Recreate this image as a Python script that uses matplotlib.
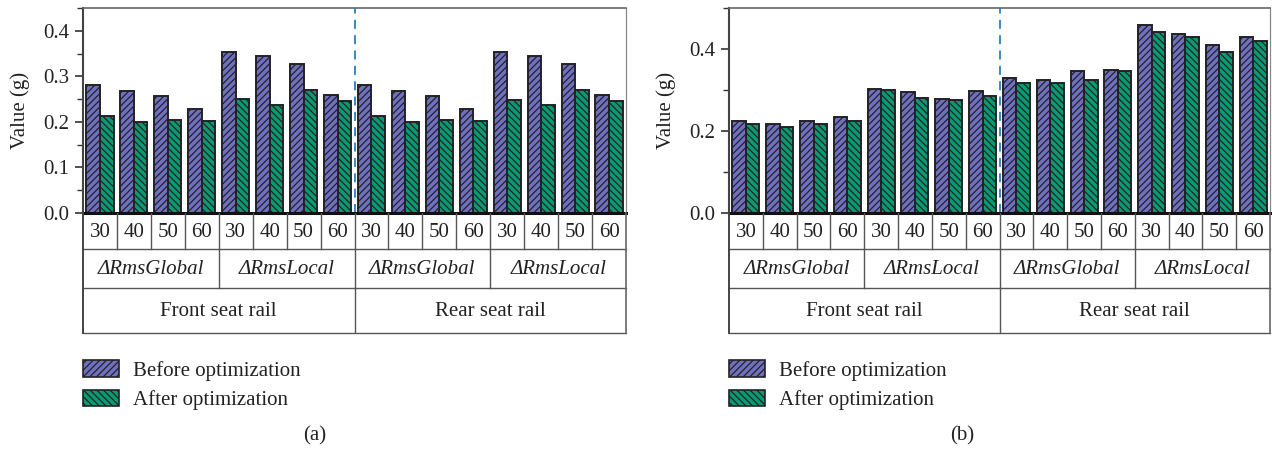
import matplotlib
matplotlib.use("Agg")
import matplotlib.pyplot as plt
from matplotlib.patches import Patch
from matplotlib.ticker import MultipleLocator, FormatStrFormatter

plt.rcParams['font.family'] = ['Liberation Serif', 'DejaVu Serif']
plt.rcParams['hatch.linewidth'] = 0.9

# Table labels under the bars
speeds = ["30", "40", "50", "60"] * 4
metrics = ["ΔRmsGlobal", "ΔRmsLocal", "ΔRmsGlobal", "ΔRmsLocal"]
positions = ["Front seat rail", "Rear seat rail"]
series_names = ["Before optimization", "After optimization"]

# Panel (a) values (g)
a_before = [0.282, 0.267, 0.256, 0.229, 0.354, 0.344, 0.328, 0.259,
            0.281, 0.267, 0.256, 0.229, 0.353, 0.344, 0.327, 0.259]
a_after = [0.214, 0.200, 0.205, 0.203, 0.250, 0.237, 0.270, 0.245,
           0.214, 0.200, 0.205, 0.203, 0.249, 0.237, 0.270, 0.245]

# Panel (b) values (g)
b_before = [0.224, 0.217, 0.224, 0.233, 0.303, 0.295, 0.278, 0.298,
            0.330, 0.324, 0.347, 0.350, 0.458, 0.437, 0.409, 0.429]
b_after = [0.217, 0.209, 0.218, 0.224, 0.299, 0.281, 0.276, 0.285,
           0.316, 0.318, 0.324, 0.346, 0.442, 0.430, 0.392, 0.419]

BEFORE_FC = '#7070c0'
AFTER_FC = '#0a9a72'
EDGE = '#222226'
DASH_C = '#2a80bd'
TXT = '#222222'
FS = 15

W, H = 1272, 449
fig = plt.figure(figsize=(W / 100, H / 100), dpi=100)


def frac_box(x0, x1, y0, y1):
    return [x0 / W, 1 - y1 / H, (x1 - x0) / W, (y1 - y0) / H]


def panel(x0, x1, before, after, ymax, major, minor, caption, cap_x):
    ax = fig.add_axes(frac_box(x0, x1, 8, 213))
    n = len(before)
    xs = list(range(n))
    bw = 0.4
    ax.bar([x - bw / 2 for x in xs], before, bw, facecolor=BEFORE_FC,
           edgecolor=EDGE, linewidth=1.4, hatch='/////', zorder=2)
    ax.bar([x + bw / 2 for x in xs], after, bw, facecolor=AFTER_FC,
           edgecolor=EDGE, linewidth=1.4, hatch='\\\\\\\\\\', zorder=2)
    ax.set_xlim(-0.5, n - 0.5)
    ax.set_ylim(0, ymax)
    ax.axvline(7.5, color=DASH_C, lw=1.3, ls=(0, (5, 3.5)), zorder=3)
    ax.set_xticks([])
    ax.yaxis.set_major_locator(MultipleLocator(major))
    ax.yaxis.set_minor_locator(MultipleLocator(minor))
    ax.yaxis.set_major_formatter(FormatStrFormatter('%.1f'))
    ax.tick_params(axis='y', which='major', direction='out', length=6,
                   width=1.2, color='#333333', labelsize=FS, pad=4,
                   labelcolor=TXT)
    ax.tick_params(axis='y', which='minor', direction='out', length=4,
                   width=1.0, color='#333333')
    ax.spines['left'].set_color('#444444')
    ax.spines['left'].set_linewidth(1.5)
    ax.spines['top'].set_color('#666666')
    ax.spines['top'].set_linewidth(1.2)
    ax.spines['right'].set_color('#888888')
    ax.spines['right'].set_linewidth(0.9)
    ax.spines['bottom'].set_color('#111111')
    ax.spines['bottom'].set_linewidth(2.2)
    ax.spines['bottom'].set_zorder(4)
    ax.set_ylabel('Value (g)', fontsize=FS, color=TXT, labelpad=9)

    # Category table below the axis
    tb = fig.add_axes(frac_box(x0, x1, 213, 333))
    tb.set_xlim(-0.5, n - 0.5)
    tb.set_ylim(120, 0)
    tb.axis('off')
    lc = '#555555'
    lw = 1.0
    row_y = [0, 36.3, 74.7, 119.5]
    for y in row_y[1:]:
        tb.plot([-0.5, n - 0.5], [y, y], color=lc, lw=lw, clip_on=False)
    tb.plot([-0.5, -0.5], [0, 119.5], color='#444444', lw=1.4, clip_on=False)
    tb.plot([n - 0.5, n - 0.5], [0, 119.5], color='#666666', lw=1.2, clip_on=False)
    for i in range(1, n):
        tb.plot([i - 0.5, i - 0.5], [0, row_y[1]], color=lc, lw=lw)
    for i in range(4, n, 4):
        tb.plot([i - 0.5, i - 0.5], [row_y[1], row_y[2]], color=lc, lw=lw)
    tb.plot([7.5, 7.5], [row_y[2], row_y[3]], color=lc, lw=lw)
    for i, s in enumerate(speeds):
        tb.text(i, (row_y[0] + row_y[1]) / 2 + 1, s, ha='center', va='center',
                fontsize=FS, color=TXT)
    for k, m in enumerate(metrics):
        tb.text(4 * k + 1.5, (row_y[1] + row_y[2]) / 2 + 1, m, ha='center',
                va='center', fontsize=FS, style='italic', color=TXT)
    for k, p in enumerate(positions):
        tb.text(8 * k + 3.5, (row_y[2] + row_y[3]) / 2 + 1, p, ha='center',
                va='center', fontsize=FS, color=TXT)

    handles = [Patch(facecolor=BEFORE_FC, edgecolor=EDGE, hatch='/////', lw=1.2),
               Patch(facecolor=AFTER_FC, edgecolor=EDGE, hatch='\\\\\\\\\\', lw=1.2)]
    fig.legend(handles, series_names, loc='upper left',
               bbox_to_anchor=((x0 - 8) / W, 1 - 352 / H), frameon=False,
               fontsize=FS, handlelength=1.73, handleheight=0.85,
               handletextpad=0.67, labelspacing=0.42, borderaxespad=0,
               labelcolor=TXT)
    fig.text(cap_x / W, 1 - 436 / H, caption, ha='center', va='center',
             fontsize=FS, color=TXT)
    return ax


panel(83, 626, a_before, a_after, 0.45, 0.1, 0.05, '(a)', 315)
panel(729, 1270, b_before, b_after, 0.5, 0.2, 0.1, '(b)', 962)

fig.savefig('out.png', dpi=100)
